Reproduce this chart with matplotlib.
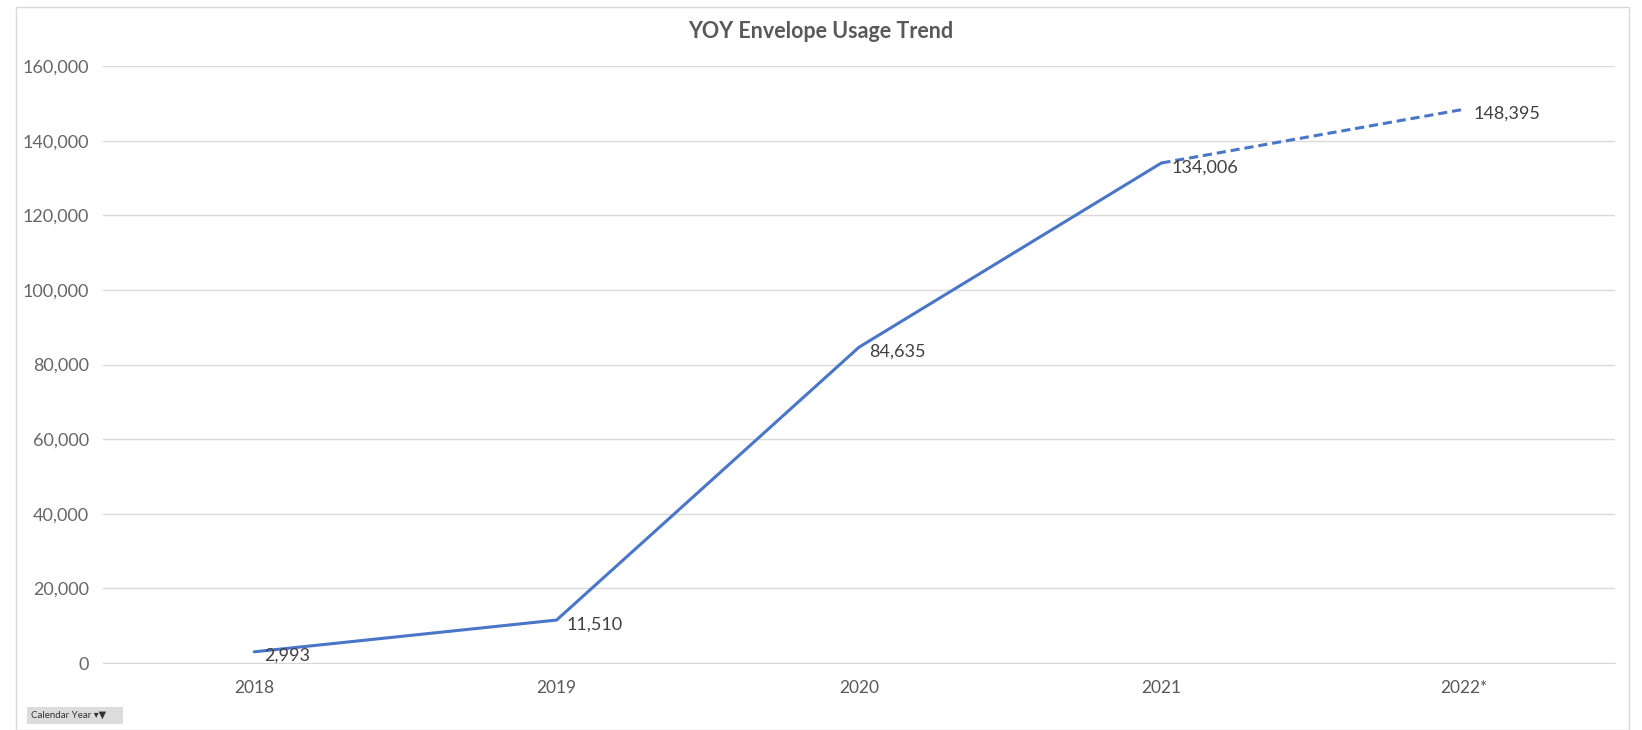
import matplotlib.pyplot as plt
from matplotlib.ticker import FuncFormatter
from matplotlib.patches import Rectangle

years = ['2018', '2019', '2020', '2021', '2022*']
usage = [2993, 11510, 84635, 134006, 148395]
n_actual = 4  # 2022* is projected (dashed)

plt.rcParams['font.family'] = ['Lato', 'DejaVu Sans']

line_color = '#4A76C8'
text_color = '#595959'

fig = plt.figure(figsize=(16.42, 7.30), dpi=100, facecolor='w')
W, H = 1642, 730
ax = fig.add_axes([103 / W, 1 - 663 / H, (1615 - 103) / W, (663 - 66) / H])

x = list(range(len(years)))
ax.plot(x[:n_actual], usage[:n_actual], color=line_color, lw=2.2,
        solid_capstyle='round', solid_joinstyle='round')
ax.plot(x[n_actual - 1:], usage[n_actual - 1:], color=line_color, lw=2.2,
        linestyle=(0, (3, 1.6)))

for xi, v in zip(x, usage):
    ax.annotate(f'{v:,}', (xi, v), xytext=(7, -3), textcoords='offset points',
                ha='left', va='center', fontsize=13, color='#404040')

ax.set_xlim(-0.5, len(years) - 0.5)
ax.set_ylim(0, 160000)
ax.set_yticks(range(0, 160001, 20000))
ax.yaxis.set_major_formatter(FuncFormatter(lambda v, p: f'{int(v):,}'))
ax.set_xticks(x)
ax.set_xticklabels(years)
ax.grid(axis='y', color='#D9D9D9', lw=1)
ax.set_axisbelow(True)
for s in ['top', 'right', 'left']:
    ax.spines[s].set_visible(False)
ax.spines['bottom'].set_color('#D9D9D9')
ax.tick_params(axis='x', length=0, labelsize=12.5, labelcolor=text_color, pad=12)
ax.tick_params(axis='y', length=0, labelsize=13, labelcolor='#666666', pad=10)

fig.text(821 / W, 1 - 32 / H, 'YOY Envelope Usage Trend', ha='center', va='center',
         fontsize=15.5, fontweight='bold', color=text_color)

# outer chart border
fig.patches.append(Rectangle((16 / W, 0), (1629 - 16) / W, 1 - 7 / H,
                             transform=fig.transFigure, fill=False,
                             edgecolor='#D9D9D9', lw=1))

# field button
fig.patches.append(Rectangle((27 / W, 1 - 724 / H), 96 / W, 17 / H,
                             transform=fig.transFigure, facecolor='#DCDCDC',
                             edgecolor='none'))
fig.text(31 / W, 1 - 715.5 / H, 'Calendar Year \u25be\u25bc', ha='left', va='center',
         fontsize=7, color='#333333')

fig.savefig('out.png', dpi=100)
